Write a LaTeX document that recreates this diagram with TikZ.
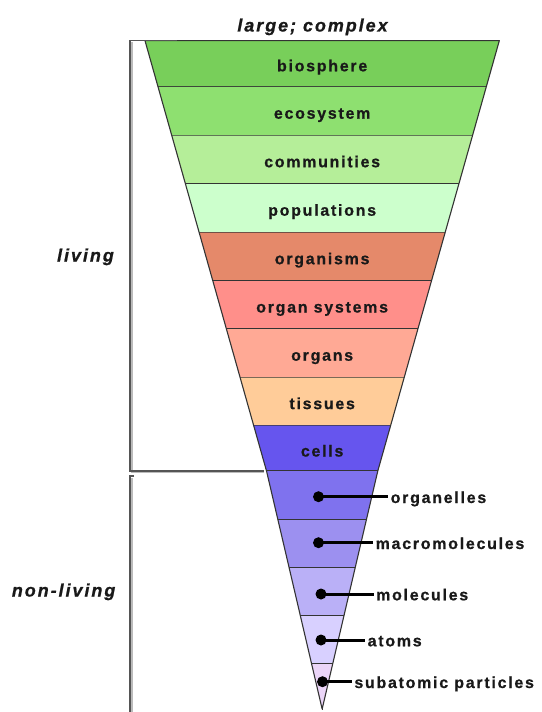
\documentclass[tikz,border=0pt]{standalone}
\usepackage{fontspec}
\setmainfont{Liberation Sans}
\newfontfamily\tracked[LetterSpace=11,
  BoldFeatures={FakeBold=0.8}, BoldItalicFeatures={FakeBold=0.8}]{Liberation Sans}

% band fills
\definecolor{cBio}{HTML}{78CF5A}
\definecolor{cEco}{HTML}{8EE070}
\definecolor{cCom}{HTML}{B5EE99}
\definecolor{cPop}{HTML}{CCFFCC}
\definecolor{cOrgm}{HTML}{E5896A}
\definecolor{cSys}{HTML}{FF8F8A}
\definecolor{cOrgn}{HTML}{FFA995}
\definecolor{cTis}{HTML}{FFCC99}
\definecolor{cCel}{HTML}{6655EE}
\definecolor{cOrgl}{HTML}{7F72EE}
\definecolor{cMac}{HTML}{9C90F0}
\definecolor{cMol}{HTML}{BAB0F7}
\definecolor{cAtm}{HTML}{D8D0FF}
\definecolor{cSub}{HTML}{EBD5F8}
\definecolor{edge}{HTML}{333333}
\definecolor{bracketgray}{HTML}{555555}
\definecolor{shadowgray}{HTML}{BBBBBB}

\begin{document}
\begin{tikzpicture}[x=1bp,y=-1bp,
  edgeline/.style={draw=edge, line width=1.1bp, line join=round},
  bandlabel/.style={font=\tracked\bfseries\fontsize{16}{18}\selectfont, text=black!90, inner sep=0pt, anchor=base},
  sidelabel/.style={font=\tracked\bfseries\itshape\fontsize{18}{20}\selectfont, text=black!90, inner sep=0pt},
  dotmark/.style={circle, fill=black, inner sep=0pt, minimum size=11bp},
  leader/.style={line width=3bp},
  rlabel/.style={font=\tracked\bfseries\fontsize{16}{18}\selectfont, text=black!90, inner xsep=2.5bp, inner ysep=0pt, anchor=base west},
  bracket/.style={draw=bracketgray, line width=1.6bp},
  bracketshadow/.style={draw=shadowgray, line width=1.6bp}
]
\useasboundingbox (0,0) rectangle (542,712);

% upper (living) bands: half width shrinks linearly from the top edge
\foreach \ya/\yb/\col in {40.7/87/cBio, 87/135.5/cEco, 135.5/184/cCom, 184/232.5/cPop,
    232.5/281/cOrgm, 281/329/cSys, 329/377.5/cOrgn, 377.5/425.7/cTis, 425.7/471/cCel}{
  \pgfmathsetmacro\ha{177.15-0.2824*(\ya-40.7)}
  \pgfmathsetmacro\hb{177.15-0.2824*(\yb-40.7)}
  \fill[\col] ({322.15-\ha},\ya) -- ({322.15+\ha},\ya) -- ({322.15+\hb},\yb) -- ({322.15-\hb},\yb) -- cycle;
  \draw[edgeline] ({322.15-\hb},\yb) -- ({322.15+\hb},\yb);
}
% lower (non-living) bands: steeper taper down to the apex
\foreach \ya/\yb/\col in {471/520/cOrgl, 520/568/cMac, 568/616/cMol, 616/664/cAtm, 664/709/cSub}{
  \pgfmathsetmacro\ha{55.63-0.2338*(\ya-471)}
  \pgfmathsetmacro\hb{55.63-0.2338*(\yb-471)}
  \fill[\col] ({322.15-\ha},\ya) -- ({322.15+\ha},\ya) -- ({322.15+\hb},\yb) -- ({322.15-\hb},\yb) -- cycle;
  \draw[edgeline] ({322.15-\hb},\yb) -- ({322.15+\hb},\yb);
}
% outline of the whole funnel
\draw[edgeline] (145,40.7) -- (499.3,40.7) -- ({322.15+55.63},471) -- (322.15,709)
  -- ({322.15-55.63},471) -- cycle;

% brackets on the left
\draw[bracketshadow] (132,42.5) -- (132,472.5) -- (264,472.5);
\draw[bracket] (177,40.7) -- (130.2,40.7) -- (130.2,470.7) -- (264,470.7);
\draw[bracketshadow] (132,478) -- (132,712);
\draw[bracket] (134,476) -- (130.2,476) -- (130.2,712);

% titles
\node[sidelabel, anchor=base] (top) at (312.5,31.5) {large; complex};
\node[sidelabel, anchor=base east] (living) at (114,261.5) {living};
\node[sidelabel, anchor=base east] (nonliving) at (115.5,596.5) {non-living};

% band labels
\node[bandlabel] (bio)  at (322.15,71.3)  {biosphere};
\node[bandlabel] (eco)  at (322.15,118.7) {ecosystem};
\node[bandlabel] (com)  at (322.15,167.2) {communities};
\node[bandlabel] (pop)  at (322.15,215.7) {populations};
\node[bandlabel] (orgm) at (322.15,264.2) {organisms};
\node[bandlabel] (sys)  at (322.15,312.5) {organ systems};
\node[bandlabel] (orgn) at (322.15,360.7) {organs};
\node[bandlabel] (tis)  at (322.15,409.1) {tissues};
\node[bandlabel] (cel)  at (322.15,456.5) {cells};

% markers and their labels
\node[dotmark] (d1) at (318.5,496.7) {};
\node[dotmark] (d2) at (318.5,542.7) {};
\node[dotmark] (d3) at (321,594) {};
\node[dotmark] (d4) at (321,640) {};
\node[dotmark] (d5) at (322.5,681.7) {};
\node[rlabel] (orgl) at (388,503)   {organelles};
\node[rlabel] (mac)  at (373,549)   {macromolecules};
\node[rlabel] (mol)  at (373.5,600.3) {molecules};
\node[rlabel] (atm)  at (365,646.3) {atoms};
\node[rlabel] (sub)  at (351.7,688) {subatomic particles};
\draw[leader] (d1.center) -- (d1.center -| orgl.west);
\draw[leader] (d2.center) -- (d2.center -| mac.west);
\draw[leader] (d3.center) -- (d3.center -| mol.west);
\draw[leader] (d4.center) -- (d4.center -| atm.west);
\draw[leader] (d5.center) -- (d5.center -| sub.west);
\end{tikzpicture}
\end{document}
